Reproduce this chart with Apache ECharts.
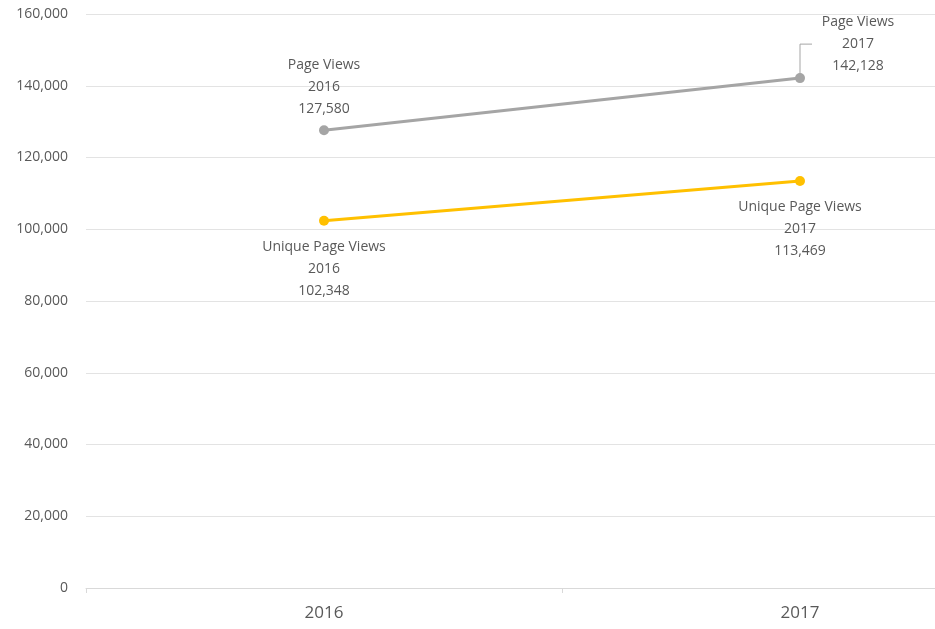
<!DOCTYPE html>
<html>
<head>
<meta charset="utf-8">
<script src="https://cdn.jsdelivr.net/npm/echarts@6/dist/echarts.min.js"></script>
<style>
  html, body { margin: 0; padding: 0; background: #fff; }
  #main { width: 935px; height: 629px; }
</style>
</head>
<body>
<div id="main"></div>
<script>
var years = ['2016', '2017'];
var pageViews = [127580, 142128];
var uniquePageViews = [102348, 113469];
var yTicks = [0, 20000, 40000, 60000, 80000, 100000, 120000, 140000, 160000];

var chart = echarts.init(document.getElementById('main'), null, { renderer: 'canvas' });

var fontFamily = '"Open Sans", Lato, sans-serif';
var textColor = '#595959';

function fmt(v) {
  return v.toLocaleString('en-US');
}

var labelCommon = {
  show: true,
  color: textColor,
  fontFamily: fontFamily,
  fontSize: 14,
  lineHeight: 22,
  align: 'center'
};

var option = {
  backgroundColor: '#ffffff',
  animation: false,
  grid: {
    left: 86,
    top: 14,
    width: 952,
    bottom: 41,
    outerBoundsMode: 'none',
    containLabel: false
  },
  xAxis: {
    type: 'category',
    data: years,
    boundaryGap: true,
    axisLine: { lineStyle: { color: '#d9d9d9', width: 1 } },
    axisTick: { show: true, length: 5, lineStyle: { color: '#d9d9d9' } },
    axisLabel: {
      color: textColor,
      fontFamily: fontFamily,
      fontSize: 17,
      margin: 17
    }
  },
  yAxis: {
    type: 'value',
    min: yTicks[0],
    max: yTicks[yTicks.length - 1],
    interval: 20000,
    axisLine: { show: false },
    axisTick: { show: false },
    splitLine: { lineStyle: { color: '#e3e3e3', width: 1 } },
    axisLabel: {
      color: textColor,
      fontFamily: fontFamily,
      fontSize: 14,
      margin: 18,
      formatter: function (v) { return fmt(v); }
    }
  },
  series: [{
    name: 'Page Views',
    type: 'line',
    data: [
      {
        value: pageViews[0],
        label: Object.assign({}, labelCommon, { position: 'top', distance: 5 })
      },
      {
        value: pageViews[1],
        label: Object.assign({}, labelCommon, { position: 'top', distance: 0, offset: [58, 4] })
      }
    ],
    symbol: 'circle',
    symbolSize: 10,
    lineStyle: { color: '#a5a5a5', width: 3 },
    itemStyle: { color: '#a5a5a5' },
    label: {
      formatter: function (p) {
        return 'Page Views\n' + p.name + '\n' + fmt(p.value);
      }
    }
  }, {
    name: 'Unique Page Views',
    type: 'line',
    data: uniquePageViews,
    symbol: 'circle',
    symbolSize: 10,
    lineStyle: { color: '#ffc000', width: 3 },
    itemStyle: { color: '#ffc000' },
    label: Object.assign({}, labelCommon, {
      position: 'bottom',
      distance: 10,
      formatter: function (p) {
        return 'Unique Page Views\n' + p.name + '\n' + fmt(p.value);
      }
    })
  }]
};

chart.setOption(option);

// leader line for the 2017 page views label
var pt = chart.convertToPixel({ seriesIndex: 0 }, [years[1], pageViews[1]]);
chart.setOption({
  graphic: [{
    type: 'polyline',
    z: 1,
    shape: { points: [[pt[0], pt[1]], [pt[0], pt[1] - 34], [pt[0] + 12, pt[1] - 34]] },
    style: { stroke: '#a5a5a5', lineWidth: 1, fill: null }
  }]
});
</script>
</body>
</html>
